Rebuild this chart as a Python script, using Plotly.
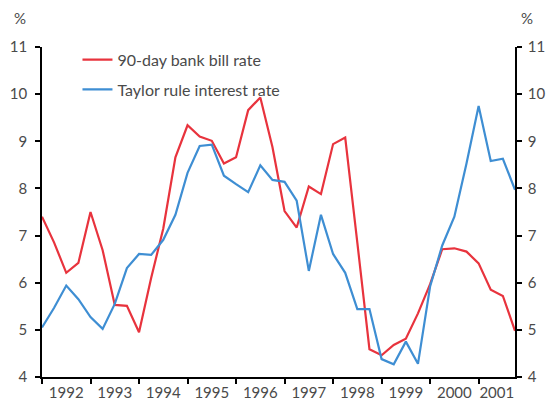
import plotly.graph_objects as go

quarters = [f"{y}Q{q}" for y in range(1992, 2002) for q in range(1, 5)]
years = [str(y) for y in range(1992, 2002)]

bank_bill = [7.40, 6.85, 6.21, 6.42, 7.50, 6.69, 5.53, 5.51, 4.95, 6.10,
             7.15, 8.66, 9.34, 9.10, 9.01, 8.53, 8.66, 9.66, 9.93, 8.88,
             7.52, 7.17, 8.04, 7.88, 8.94, 9.08, 6.85, 4.59, 4.46, 4.68,
             4.81, 5.35, 5.97, 6.71, 6.73, 6.66, 6.41, 5.85, 5.72, 4.98]
taylor = [5.05, 5.47, 5.94, 5.65, 5.27, 5.02, 5.55, 6.31, 6.61, 6.59,
          6.91, 7.44, 8.33, 8.90, 8.93, 8.27, 8.09, 7.92, 8.49, 8.18,
          8.14, 7.74, 6.25, 7.44, 6.61, 6.21, 5.44, 5.44, 4.38, 4.27,
          4.75, 4.28, 5.92, 6.79, 7.40, 8.53, 9.75, 8.58, 8.63, 7.97]

RED = "#E8333D"
BLUE = "#3E8ED3"
TXT = "#4a4a4a"
FONT = "Lato"
FS = 16

x = list(range(len(quarters)))
n = len(quarters)

year_start = [quarters.index(f"{y}Q1") for y in years]
label_pos = []
for i, s in enumerate(year_start):
    e = year_start[i + 1] if i + 1 < len(year_start) else n - 1
    label_pos.append((s + e) / 2)

fig = go.Figure()
fig.add_trace(go.Scatter(x=x, y=bank_bill, mode="lines", name="90-day bank bill rate",
                         line=dict(color=RED, width=2.2), legendgroup="a"))
fig.add_trace(go.Scatter(x=x, y=taylor, mode="lines", name="Taylor rule interest rate",
                         line=dict(color=BLUE, width=2.2), legendgroup="b"))
fig.add_trace(go.Scatter(x=x, y=taylor, mode="lines", yaxis="y2", showlegend=False,
                         hoverinfo="skip", line=dict(width=0), opacity=0))

axis_common = dict(showgrid=False, zeroline=False, showline=True, linecolor="black",
                   linewidth=1.5, automargin=False, ticklabeloverflow="allow")

W, H = 547, 401
L, T, PW, PH = 42, 47, 473, 330
fig.update_layout(
    width=W, height=H,
    margin=dict(l=L, r=W - L - PW, t=T, b=H - T - PH),
    paper_bgcolor="white", plot_bgcolor="white",
    font=dict(family=FONT, size=FS, color=TXT),
    showlegend=True,
    legend=dict(x=0.075, y=1.013, xanchor="left", yanchor="top",
                bgcolor="rgba(0,0,0,0)", font=dict(size=FS, color=TXT),
                traceorder="grouped", tracegroupgap=6),
    xaxis=dict(range=[0, n - 1], tickmode="array", tickvals=label_pos, ticktext=years,
               ticks="", ticklabelstandoff=1, tickfont=dict(size=15),
               minor=dict(tickmode="array", tickvals=year_start, ticks="outside",
                          ticklen=5, tickcolor="black", tickwidth=1.5, showgrid=False),
               **axis_common),
    yaxis=dict(range=[4, 11], dtick=1, ticks="outside", ticklen=5, tickcolor="black",
               tickwidth=1.5, ticklabelstandoff=5, tickfont=dict(size=15), **axis_common),
    yaxis2=dict(range=[4, 11], dtick=1, overlaying="y", side="right",
                ticks="outside", ticklen=5, tickcolor="black", tickwidth=1.5,
                ticklabelstandoff=3, tickfont=dict(size=15), **axis_common),
    annotations=[
        dict(text="%", xref="paper", yref="paper", x=-22 / PW, y=1.0, yshift=29,
             showarrow=False, xanchor="center", yanchor="middle",
             font=dict(size=15, color=TXT)),
        dict(text="%", xref="paper", yref="paper", x=(527 - L) / PW, y=1.0, yshift=29,
             showarrow=False, xanchor="center", yanchor="middle",
             font=dict(size=15, color=TXT)),
    ],
)

fig.write_html("out.html", config={"displayModeBar": False},
               post_script="document.body.style.margin='0';document.body.style.overflow='hidden';")
